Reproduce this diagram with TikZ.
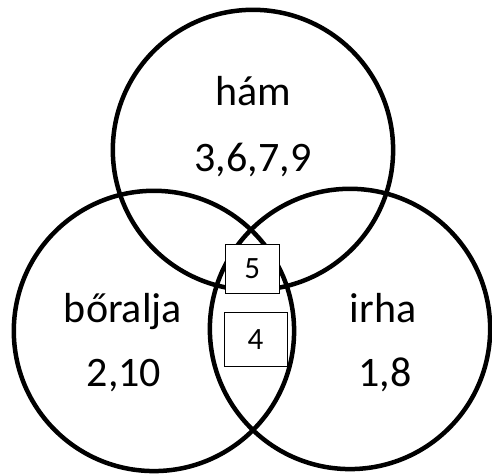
\documentclass[tikz,border=0pt]{standalone}
\usepackage{fontspec}
\setmainfont{Carlito}
\usetikzlibrary{positioning}

\tikzset{
	venn/.style={circle, draw, line width=4.5pt, minimum size=9.85cm, inner sep=0pt},
	lbl/.style={anchor=base, font=\fontsize{42}{50}\selectfont},
	numbox/.style={draw, fill=white, line width=0.9pt, font=\fontsize{31}{37}\selectfont, inner sep=0pt}
}

\begin{document}
\begin{tikzpicture}

	\useasboundingbox (0,0) rectangle (17.29,16.66);

	\node[venn] (HAM) at (8.89,11.39) {};
	\node[venn] (BOR) at (5.41,5.03) {};
	\node[venn] (IRHA) at (12.30,5.10) {};

	\node[lbl] (L1) at (8.89,12.94) {hám};
	\node[lbl] (N1) at (8.89,10.62) {3,6,7,9};
	\node[lbl] (L2) at (4.32,5.34) {bőralja};
	\node[lbl] (N2) at (4.36,3.06) {2,10};
	\node[lbl] (L3) at (13.46,5.34) {irha};
	\node[lbl] (N3) at (13.53,3.06) {1,8};

	\node[numbox, minimum width=1.90cm, minimum height=1.72cm] (B5) at (8.86,7.22) {5};
	\node[numbox, minimum width=2.21cm, minimum height=1.93cm] (B4) at (8.98,4.73) {4};

\end{tikzpicture}
\end{document}
